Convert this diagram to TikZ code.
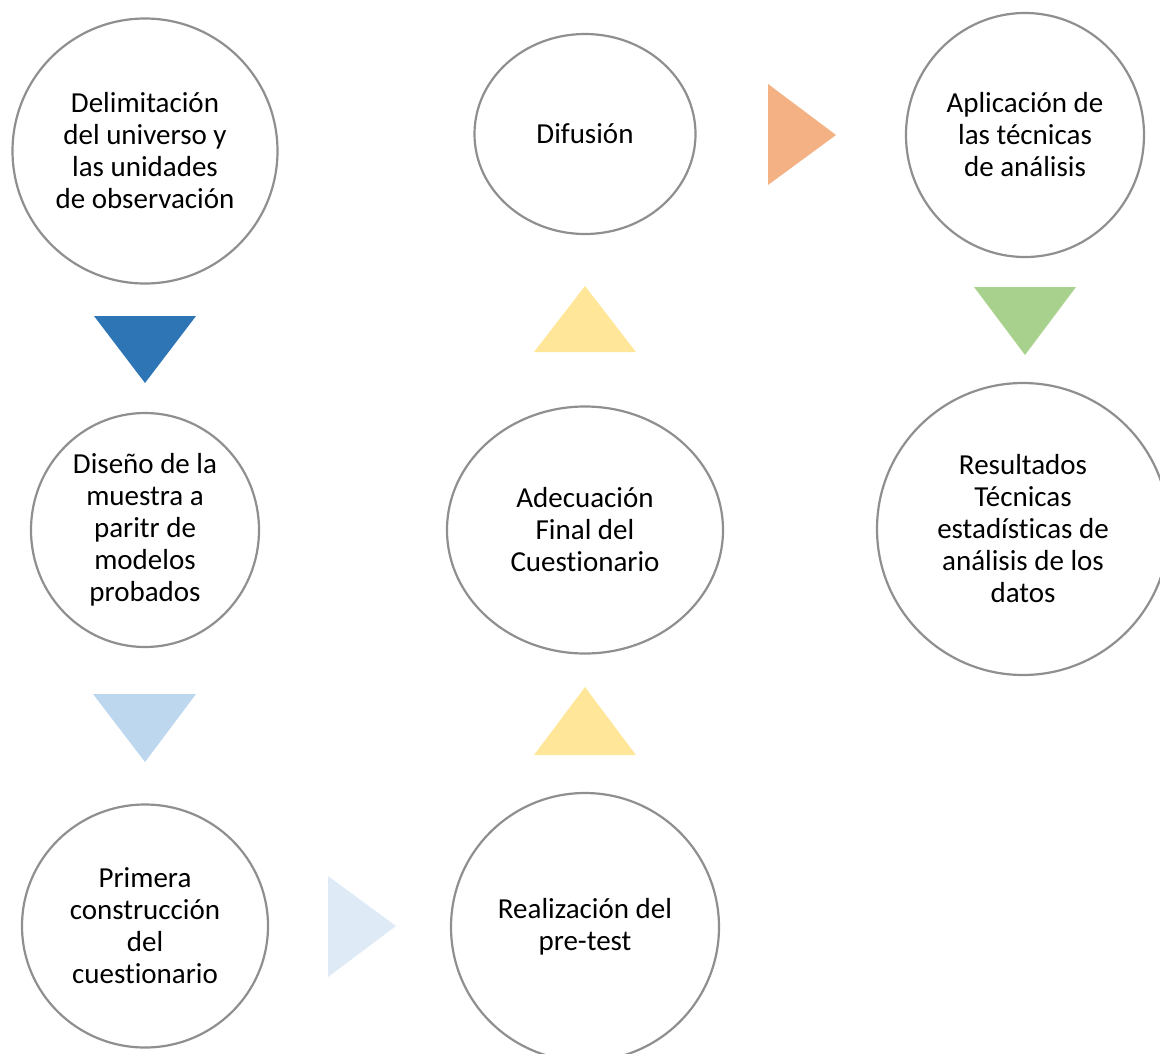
\documentclass[tikz,border=0pt]{standalone}
\usepackage{fontspec}
\setmainfont{Carlito}[Ligatures=NoCommon]
\usepackage{tikz}
\usetikzlibrary{shapes.geometric}

\definecolor{borde}{HTML}{8F8F8F}
\definecolor{azulosc}{HTML}{2E75B6}
\definecolor{azulclaro}{HTML}{BDD7EE}
\definecolor{azulpalido}{HTML}{DEEBF7}
\definecolor{amarillo}{HTML}{FFE699}
\definecolor{naranja}{HTML}{F4B183}
\definecolor{verde}{HTML}{A9D18E}

\tikzset{
  etapa/.style={draw=borde, line width=2.2pt, fill=white, inner sep=0pt,
    align=center, font=\fontsize{29}{32}\selectfont},
  redondo/.style={etapa, circle, minimum size=#1},
  ovalo/.style={etapa, ellipse},
}

\begin{document}
\begin{tikzpicture}[x=1pt,y=-1pt]	%proceso de la encuesta
\useasboundingbox (0,0) rectangle (1160,1053);
\clip (0,0) rectangle (1160,1053);

%left column - steps
\node[redondo=265pt] (delim) at (145,151)
	{Delimitación\\del universo y\\las unidades\\de observación};
\node[ovalo, minimum width=228pt, minimum height=234pt] (diseno) at (145,530)
	{Diseño de la\\muestra a\\paritr de\\modelos\\probados};
\node[ovalo, minimum width=246pt, minimum height=243pt] (primera) at (145,926)
	{Primera\\construcción\\del\\cuestionario};

%mid column - steps
\node[redondo=268pt] (pretest) at (585,927) {Realización del\\pre-test};
\node[ovalo, minimum width=276pt, minimum height=247pt] (adecua) at (585,530)
	{Adecuación\\Final del\\Cuestionario};
\node[ovalo, minimum width=221pt, minimum height=200pt] (difusion) at (585,134)
	{Difusión};

%right column - steps
\node[ovalo, minimum width=238pt, minimum height=244pt] (aplica) at (1025,135)
	{Aplicación de\\las técnicas\\de análisis};
\node[redondo=292pt] (result) at (1023,529)
	{Resultados\\Técnicas\\estadísticas de\\análisis de los\\datos};

%arrows - triangles
\fill[azulosc]    (94,316)--(196,316)--(145,383)--cycle;	%delim--diseno
\fill[azulclaro]  (93,694)--(196,694)--(145,762)--cycle;	%diseno--primera
\fill[azulpalido] (328,876)--(396,926)--(328,977)--cycle;	%primera--pretest
%
\fill[amarillo]   (534,755)--(636,755)--(585,687)--cycle;	%pretest--adecua
\fill[amarillo]   (534,352)--(636,352)--(585,286)--cycle;	%adecua--difusion
%
\fill[naranja]    (768,84)--(836,135)--(768,185)--cycle;	%difusion--aplica
\fill[verde]      (974,287)--(1076,287)--(1025,355)--cycle;	%aplica--result
\end{tikzpicture}
\end{document}
